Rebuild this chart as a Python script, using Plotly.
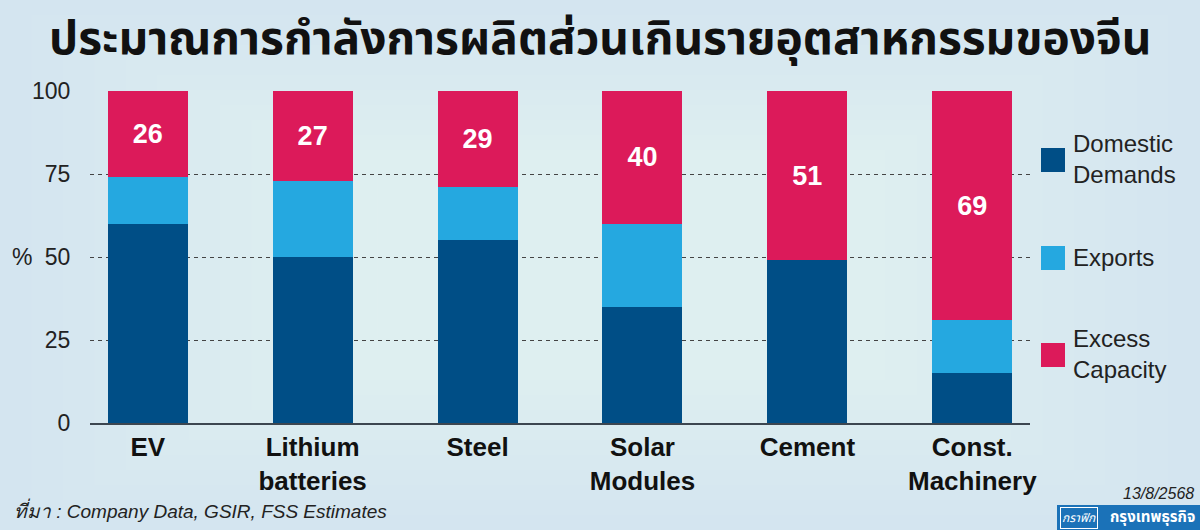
import plotly.graph_objects as go

# ---- data ----
categories = ["EV", "Lithium<br>batteries", "Steel", "Solar<br>Modules", "Cement", "Const.<br>Machinery"]
domestic = [60, 50, 55, 35, 49, 15]
exports = [14, 23, 16, 25, 0, 16]
excess = [26, 27, 29, 40, 51, 69]
series_names = ["Domestic<br>Demands", "Exports", "Excess<br>Capacity"]
series_colors = ["#004e86", "#25a8e0", "#dc1a5a"]
y_ticks = [0, 25, 50, 75, 100]

title_text = "ประมาณการกำลังการผลิตส่วนเกินรายอุตสาหกรรมของจีน"
source_text = "ที่มา : Company Data, GSIR, FSS Estimates"
date_text = "13/8/2568"

W, H = 1200, 530
L, R, T, B = 90, 170, 91, 107
PW, PH = W - L - R, H - T - B

def px(x):
    return (x - L) / PW

def py(y):
    return (H - B - y) / PH

FONT = "Liberation Sans, Arial, Helvetica, sans-serif"
THAI = "Noto Sans Thai, Noto Sans Thai Looped, Loma, Garuda, Noto Sans, sans-serif"

fig = go.Figure()
for vals, name, col in zip([domestic, exports, excess], series_names, series_colors):
    is_excess = vals is excess
    fig.add_trace(go.Bar(
        x=categories, y=vals, name=name,
        marker=dict(color=col, line=dict(width=0)),
        width=0.485,
        text=[str(v) for v in vals] if is_excess else None,
        textposition="inside" if is_excess else "none",
        insidetextanchor="middle",
        textangle=0,
        textfont=dict(family=FONT, size=27, color="white", weight="bold"),
        showlegend=False,
        hoverinfo="x+y+name",
    ))

shapes = []
# soft background gradient
n = 14
for i in range(n):
    f = i / n
    shapes.append(dict(type="rect", xref="paper", yref="paper", layer="below",
                       x0=px(0 + f * 440), x1=px(W - f * 440),
                       y0=py(H - f * 210), y1=py(0 + f * 210),
                       fillcolor="#f4f9fc", opacity=0.06, line=dict(width=0)))

annotations = []
# legend (manual)
legend_centers = [160, 258, 355]
for name, col, cy in zip(series_names, series_colors, legend_centers):
    shapes.append(dict(type="rect", xref="paper", yref="paper",
                       x0=px(1041), x1=px(1065), y0=py(cy + 12), y1=py(cy - 12),
                       fillcolor=col, line=dict(width=0)))
    annotations.append(dict(xref="paper", yref="paper", x=px(1071), y=py(cy - 1),
                            xanchor="left", yanchor="middle", align="left",
                            text=name, showarrow=False,
                            font=dict(family=FONT, size=24, color="#222222")))

# title
annotations.append(dict(xref="paper", yref="paper", x=px(600), y=py(40),
                        xanchor="center", yanchor="middle", text="<b>" + title_text + "</b>",
                        showarrow=False, font=dict(family=THAI, size=46, color="#111111")))
# y-axis unit
annotations.append(dict(xref="paper", yref="paper", x=px(34), y=0.5,
                        xanchor="right", yanchor="middle", text="%",
                        showarrow=False, font=dict(family=FONT, size=23, color="#222222")))
# source
annotations.append(dict(xref="paper", yref="paper", x=px(12), y=py(510),
                        xanchor="left", yanchor="middle", text="<i>" + source_text + "</i>",
                        showarrow=False, font=dict(family=FONT, size=19, color="#222222")))
# date
annotations.append(dict(xref="paper", yref="paper", x=px(1196), y=py(493),
                        xanchor="right", yanchor="middle", text="<i>" + date_text + "</i>",
                        showarrow=False, font=dict(family=FONT, size=16, color="#222222")))
# logo
shapes.append(dict(type="rect", xref="paper", yref="paper",
                   x0=px(1057), x1=px(1200), y0=py(530), y1=py(505),
                   fillcolor="#1b72b8", line=dict(width=0)))
annotations.append(dict(xref="paper", yref="paper", x=px(1060), y=py(517.5),
                        xanchor="left", yanchor="middle", text="<i>กราฟิก</i>",
                        showarrow=False, bordercolor="white", borderwidth=1, borderpad=1,
                        font=dict(family=THAI, size=12, color="white")))
annotations.append(dict(xref="paper", yref="paper", x=px(1197), y=py(517.5),
                        xanchor="right", yanchor="middle", text="<b>กรุงเทพธุรกิจ</b>",
                        showarrow=False, font=dict(family=THAI, size=15, color="white")))

fig.update_layout(
    width=W, height=H,
    margin=dict(l=L, r=R, t=T, b=B, pad=0),
    barmode="stack",
    paper_bgcolor="#d3e4f0",
    plot_bgcolor="rgba(0,0,0,0)",
    showlegend=False,
    shapes=shapes,
    annotations=annotations,
    xaxis=dict(
        type="category", range=[-0.35, 5.35],
        showline=True, linecolor="#3c4650", linewidth=2,
        showgrid=False, zeroline=False,
        ticks="outside", ticklen=0, tickcolor="rgba(0,0,0,0)",
        tickfont=dict(family=FONT, size=26, color="#111111", weight="bold"),
    ),
    yaxis=dict(
        range=[0, 100], tickvals=y_ticks,
        showgrid=True, gridcolor="#444444", gridwidth=1, griddash="4px,4px",
        zeroline=False, showline=False,
        ticks="outside", ticklen=14, tickcolor="rgba(0,0,0,0)",
        tickfont=dict(family=FONT, size=23, color="#222222"),
    ),
)

fig.write_html(
    "out.html",
    config={"displayModeBar": False},
    post_script="document.body.style.margin='0';document.body.style.overflow='hidden';",
)
